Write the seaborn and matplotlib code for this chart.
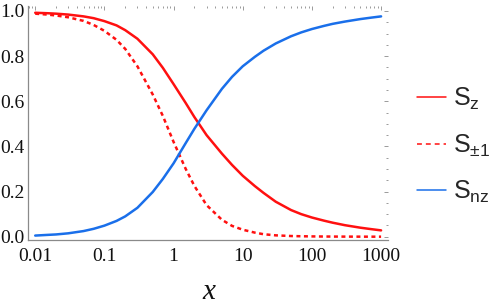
import numpy as np
import pandas as pd
import matplotlib
matplotlib.use("Agg")
import matplotlib.pyplot as plt
import seaborn as sns
from matplotlib.lines import Line2D
from matplotlib.ticker import FixedLocator, FixedFormatter, NullFormatter, MultipleLocator

# ---- data ----
x_vals = [0.01, 0.015, 0.02, 0.03, 0.05, 0.07, 0.1, 0.15, 0.2, 0.3, 0.5, 0.7,
          1, 1.5, 2, 3, 5, 7, 10, 15, 20, 30, 50, 70, 100, 150, 200, 300, 500, 700, 1000]
s_z = [0.992, 0.990, 0.988, 0.984, 0.976, 0.968, 0.955, 0.936, 0.915, 0.877, 0.808, 0.748,
       0.676, 0.592, 0.530, 0.450, 0.368, 0.318, 0.270, 0.224, 0.194, 0.155, 0.118, 0.100,
       0.085, 0.071, 0.062, 0.051, 0.040, 0.034, 0.028]
s_pm1 = [0.988, 0.984, 0.980, 0.972, 0.956, 0.938, 0.912, 0.872, 0.832, 0.755, 0.630, 0.535,
         0.420, 0.300, 0.225, 0.140, 0.075, 0.048, 0.031, 0.018, 0.011, 0.006, 0.003, 0.002,
         0.0013, 0.0008, 0.0006, 0.0004, 0.0002, 0.0001, 0.0001]
s_nz = [0.005, 0.008, 0.010, 0.015, 0.025, 0.035, 0.049, 0.070, 0.090, 0.128, 0.198, 0.256,
        0.325, 0.415, 0.478, 0.560, 0.655, 0.708, 0.755, 0.797, 0.824, 0.856, 0.888, 0.905,
        0.920, 0.934, 0.943, 0.953, 0.964, 0.970, 0.976]
series_keys = ["Sz", "Spm1", "Snz"]
legend_labels = [r"S$_\mathregular{z}$", r"S$_\mathregular{\pm1}$", r"S$_\mathregular{nz}$"]
x_ticks = [0.01, 0.1, 1, 10, 100, 1000]
x_ticklabels = ["0.01", "0.1", "1", "10", "100", "1000"]
y_ticks = [0.0, 0.2, 0.4, 0.6, 0.8, 1.0]
y_ticklabels = ["0.0", "0.2", "0.4", "0.6", "0.8", "1.0"]
x_label = "x"

RED = "#FF1010"
BLUE = "#1A6FEA"

df = pd.concat([
    pd.DataFrame({"x": x_vals, "y": s_z, "series": "Sz"}),
    pd.DataFrame({"x": x_vals, "y": s_pm1, "series": "Spm1"}),
    pd.DataFrame({"x": x_vals, "y": s_nz, "series": "Snz"}),
], ignore_index=True)

sns.set_theme(style="white")
plt.rcParams["font.family"] = ["Liberation Serif", "DejaVu Serif"]

fig = plt.figure(figsize=(4.9, 3.05), dpi=100)
ax = fig.add_axes([28.3 / 490, 1 - 240 / 305, (388 - 28.3) / 490, (240 - 6) / 305])

palette = {"Sz": RED, "Spm1": RED, "Snz": BLUE}
dashes = {"Sz": "", "Spm1": (1.6, 1.4), "Snz": ""}
sns.lineplot(data=df, x="x", y="y", hue="series", style="series", palette=palette,
             dashes=dashes, hue_order=series_keys, style_order=series_keys,
             linewidth=1.8, legend=False, ax=ax, sort=False)

ax.set_xscale("log")
ax.set_xlim(10 ** -2.1, 10 ** 3.1)
ax.set_ylim(-0.0146, 1.022)

ax.xaxis.set_major_locator(FixedLocator(x_ticks))
ax.xaxis.set_major_formatter(FixedFormatter(x_ticklabels))
minor_x = [m * 10.0 ** e for e in range(-3, 4) for m in range(2, 10)]
ax.xaxis.set_minor_locator(FixedLocator(minor_x))
ax.xaxis.set_minor_formatter(NullFormatter())
ax.yaxis.set_major_locator(FixedLocator(y_ticks))
ax.yaxis.set_major_formatter(FixedFormatter(y_ticklabels))
ax.yaxis.set_minor_locator(MultipleLocator(0.05))

for side in ["top", "right"]:
    ax.spines[side].set_visible(False)
for side in ["left", "bottom"]:
    ax.spines[side].set_color("#8a8a8a")
    ax.spines[side].set_linewidth(0.9)

ax.tick_params(which="both", direction="in", top=True, right=True, color="#9a9a9a",
               width=0.7, labelsize=14, labelcolor="#111111")
ax.tick_params(which="major", length=3.0)
ax.tick_params(which="minor", length=1.6)
ax.tick_params(axis="x", which="major", pad=6)
ax.tick_params(axis="y", which="major", pad=3)
ax.set_ylabel("")
ax.set_xlabel("")
fig.text(209 / 490, 1 - 299 / 305, x_label, fontsize=21, fontstyle="italic",
         family="Liberation Serif", color="#111111", ha="center", va="baseline")

handles = [Line2D([], [], color=RED, lw=1.1),
           Line2D([], [], color=RED, lw=1.1, dashes=(3.2, 2.6)),
           Line2D([], [], color=BLUE, lw=1.1)]
ax.legend(handles, legend_labels, loc="center left",
          bbox_to_anchor=((417 - 28.3) / 359.7, (240 - 145.5) / 234),
          frameon=False, prop={"family": "Liberation Sans", "size": 18},
          handlelength=1.15, handletextpad=0.3, labelspacing=0.8, borderpad=0,
          borderaxespad=0)

fig.savefig("out.png", dpi=100)
